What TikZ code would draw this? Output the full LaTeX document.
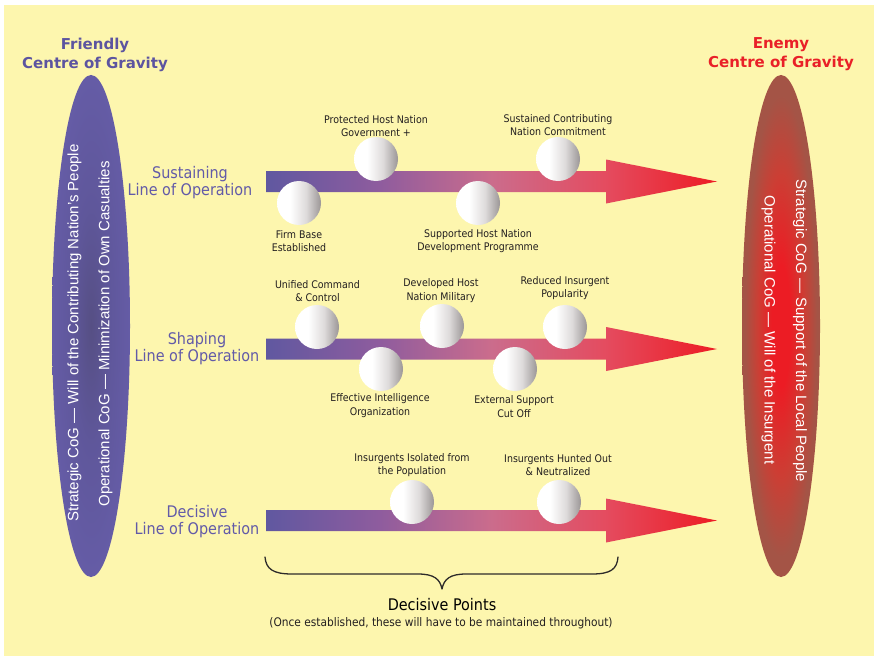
\documentclass[tikz,border=0pt]{standalone}
\usepackage{fontspec}
\setmainfont{DejaVu Sans Condensed}
\newfontfamily\headfont{DejaVu Sans}
\newfontfamily\cogfont{Liberation Sans}

% palette
\definecolor{bgyellow}{RGB}{253,246,174}
\definecolor{friendpurple}{RGB}{92,84,160}
\definecolor{enemyred}{RGB}{233,32,40}
\definecolor{rowpurple}{RGB}{98,90,168}
\definecolor{dptext}{RGB}{35,31,32}
\definecolor{bracegrey}{RGB}{45,42,42}
% line-of-operation gradient
\definecolor{lopA}{RGB}{96,88,160}
\definecolor{lopB}{RGB}{142,92,158}
\definecolor{lopC}{RGB}{203,108,140}
\definecolor{lopD}{RGB}{228,76,96}
\definecolor{lopE}{RGB}{237,28,36}
% decisive point spheres
\definecolor{sphA}{RGB}{222,219,219}
\definecolor{sphB}{RGB}{155,150,150}
% centres of gravity
\definecolor{frA}{RGB}{86,79,132}
\definecolor{frB}{RGB}{95,87,155}
\definecolor{frC}{RGB}{101,92,166}
\definecolor{enA}{RGB}{236,28,36}
\definecolor{enB}{RGB}{204,62,52}
\definecolor{enC}{RGB}{164,84,70}

\pgfdeclarehorizontalshading{lineshade}{100bp}{color(0bp)=(lopA); color(25bp)=(lopA); color(37.5bp)=(lopB); color(50bp)=(lopC); color(62.5bp)=(lopD); color(75bp)=(lopE); color(100bp)=(lopE)}
\pgfdeclarehorizontalshading{sphshade}{100bp}{color(0bp)=(white); color(25bp)=(white); color(40bp)=(white); color(58bp)=(sphA); color(75bp)=(sphB); color(100bp)=(sphB)}
\pgfdeclareradialshading{friendshade}{\pgfpoint{0bp}{0bp}}{color(0bp)=(frA); color(12bp)=(frB); color(25bp)=(frC); color(50bp)=(frC)}
\pgfdeclareradialshading{enemyshade}{\pgfpoint{0bp}{0bp}}{color(0bp)=(enA); color(6bp)=(enA); color(15bp)=(enB); color(23bp)=(enC); color(50bp)=(enC)}

\begin{document}
\begin{tikzpicture}[x=1pt,y=-1pt,
  sphere/.style={circle, minimum size=44pt, inner sep=0pt, shading=sphshade},
  dplabel/.style={font=\fontsize{10.5}{13.5}\selectfont, text=dptext, align=center, inner sep=0pt},
  rowlabel/.style={font=\fontsize{16}{17}\selectfont, text=rowpurple, align=center, inner sep=0pt},
  cogtitle/.style={font=\headfont\bfseries\fontsize{15}{19}\selectfont, align=center, inner sep=0pt},
  cogtext/.style={font=\cogfont\fontsize{15}{18}\selectfont, text=white, inner sep=0pt},
  lineop/.style={shading=lineshade},
  bracestroke/.style={draw=bracegrey, line width=1.3pt, line cap=round, line join=round}]

\useasboundingbox (0,0) rectangle (874,658);
\fill[white] (0,0) rectangle (874,658);
\fill[bgyellow] (4,5) rectangle (874,656);

% centres of gravity
\path[shading=friendshade] (91,326) ellipse [x radius=39, y radius=251];
\path[shading=enemyshade] (781,326) ellipse [x radius=39, y radius=251];

\node[cogtitle, text=friendpurple] (fcogtitle) at (95,54.5) {Friendly\\Centre of Gravity};
\node[cogtitle, text=enemyred] (ecogtitle) at (781,54.5) {Enemy\\Centre of Gravity};

\node[cogtext, rotate=90] (fstrat) at (74.5,333) {Strategic CoG — Will of the Contributing Nation’s People};
\node[cogtext, rotate=90] (foper) at (105.5,334) {Operational CoG — Minimization of Own Casualties};
\node[cogtext, rotate=-90] (estrat) at (800,331) {Strategic CoG — Support of the Local People};
\node[cogtext, rotate=-90] (eoper) at (768.5,330) {Operational CoG — Will of the Insurgent};

% the three lines of operation
\foreach \yc in {181.5, 349, 520.5} {
  \path[lineop] (266,\yc-10.5) -- (606,\yc-10.5) -- (606,\yc-22) -- (717,\yc)
    -- (606,\yc+22) -- (606,\yc+10.5) -- (266,\yc+10.5) -- cycle;
}

\node[rowlabel] (sustain) at (190,182.5) {Sustaining\\Line of Operation};
\node[rowlabel] (shaping) at (197,348.5) {Shaping\\Line of Operation};
\node[rowlabel] (decisive) at (197,521.5) {Decisive\\Line of Operation};

% sustaining decisive points
\node[sphere] (fb) at (299,203) {};
\node[sphere] (ph) at (376,159) {};
\node[sphere] (sh) at (478,203) {};
\node[sphere] (sc) at (558,159) {};
\node[dplabel] (fbl) at (299,241) {Firm Base\\Established};
\node[dplabel] (phl) at (376,126) {Protected Host Nation\\Government +};
\node[dplabel] (shl) at (478,241) {Supported Host Nation\\Development Programme};
\node[dplabel] (scl) at (558,125) {Sustained Contributing\\Nation Commitment};

% shaping decisive points
\node[sphere] (uc) at (317,327) {};
\node[sphere] (dh) at (442,326) {};
\node[sphere] (ri) at (565,327) {};
\node[sphere] (ei) at (381,369) {};
\node[sphere] (es) at (515,369) {};
\node[dplabel] (ucl) at (317.5,291) {Unified Command\\\& Control};
\node[dplabel] (dhl) at (441,290.5) {Developed Host\\Nation Military};
\node[dplabel] (ril) at (565,288) {Reduced Insurgent\\Popularity};
\node[dplabel] (eil) at (380,405.5) {Effective Intelligence\\Organization};
\node[dplabel] (esl) at (514,406.5) {External Support\\Cut Off};

% decisive decisive points
\node[sphere] (ii) at (412,502) {};
\node[sphere] (ih) at (559,502) {};
\node[dplabel] (iil) at (412,465) {Insurgents Isolated from\\the Population};
\node[dplabel] (ihl) at (558,465) {Insurgents Hunted Out\\\& Neutralized};

% brace gathering the decisive points
\coordinate (brl) at (265,557);
\coordinate (brt) at (442,589);
\coordinate (brr) at (618,557);
\draw[bracestroke] (brl) .. controls (266,569) and (273,574) .. (292,574)
  -- (418,574) .. controls (434,574) and (440,579) .. (brt)
  .. controls (444,579) and (450,574) .. (466,574)
  -- (592,574) .. controls (611,574) and (617,569) .. (brr);

\node[font=\fontsize{16}{18}\selectfont, text=black, inner sep=0pt] (dptitle) at (442,605) {Decisive Points};
\node[font=\fontsize{11.8}{13}\selectfont, text=dptext, inner sep=0pt] (dpnote) at (441,623) {(Once established, these will have to be maintained throughout)};
\end{tikzpicture}
\end{document}
